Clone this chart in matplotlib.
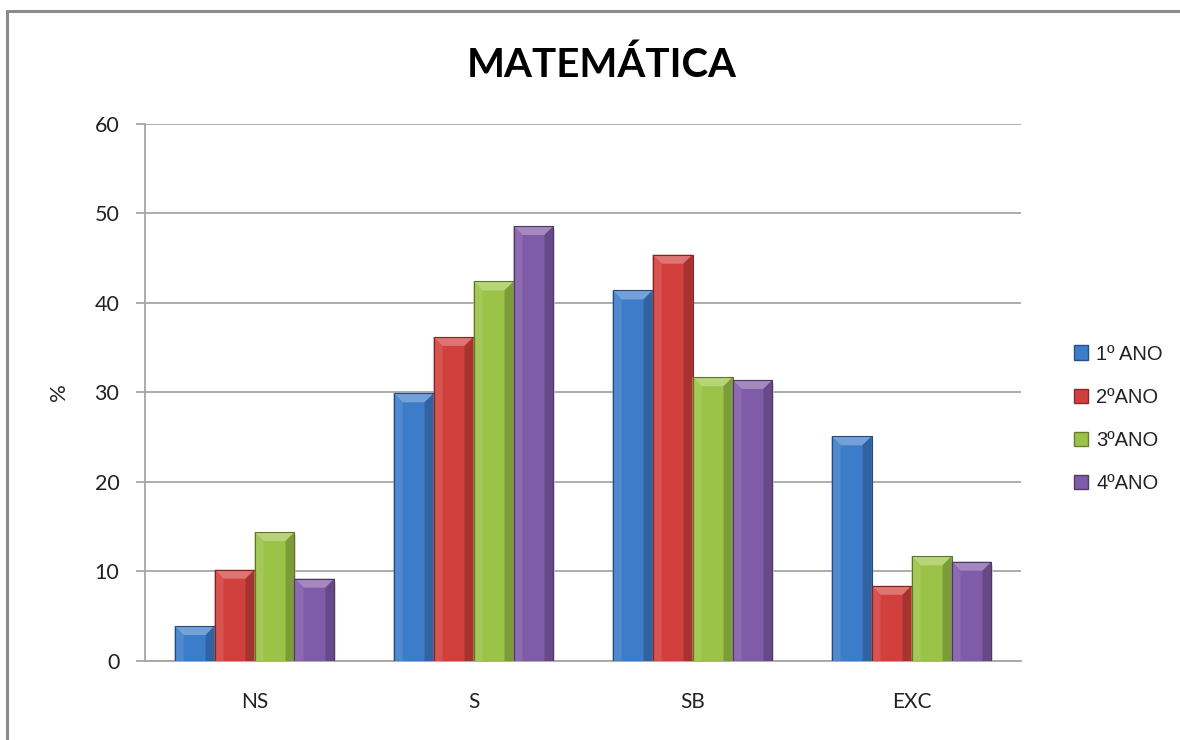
import numpy as np
import matplotlib
matplotlib.use("Agg")
import matplotlib.pyplot as plt
from matplotlib.patches import Polygon, Rectangle, Patch
from matplotlib.colors import to_rgb

plt.rcParams['font.family'] = ['Lato', 'DejaVu Sans']

categories = ["NS", "S", "SB", "EXC"]
series = ["1º ANO", "2ºANO", "3ºANO", "4ºANO"]
ano1 = [3.9, 29.9, 41.4, 25.1]
ano2 = [10.2, 36.2, 45.4, 8.4]
ano3 = [14.4, 42.4, 31.7, 11.7]
ano4 = [9.2, 48.6, 31.4, 11.1]
colors = ["#3d7cc9", "#d1403d", "#9bc347", "#7f5ba8"]

values = [ano1, ano2, ano3, ano4]

fig = plt.figure(figsize=(11.8, 7.4), dpi=100)
ax = fig.add_axes([0.1229, 0.1068, 0.7424, 0.7257])

x = np.arange(len(categories))
bw = 0.1825


def shade(c, f):
    r, g, b = to_rgb(c)
    if f > 0:
        return (r + (1 - r) * f, g + (1 - g) * f, b + (1 - b) * f)
    return (r * (1 + f), g * (1 + f), b * (1 + f))


ax.set_xlim(-0.5, len(categories) - 0.5)
ax.set_ylim(0, 60)

# bevel size in data units (about 9 px)
axw = 0.7424 * 1180
axh = 0.7257 * 740
dx = 9 * len(categories) / axw
dy = 9 * 60 / axh

for i, (vals, col) in enumerate(zip(values, colors)):
    # soft shadow
    ax.bar(x + (i - 1.5) * bw + 0.006, vals, bw, bottom=-0.35, color="#cfcfcf",
           edgecolor='none', zorder=2, alpha=0.7)
    bars = ax.bar(x + (i - 1.5) * bw, vals, bw, color=col,
                  edgecolor='none', linewidth=0, zorder=3)
    for b in bars:
        x0 = b.get_x()
        x1 = x0 + b.get_width()
        h = b.get_height()
        ax.add_patch(Polygon([(x0, h), (x1, h), (x1 - dx, h - dy), (x0 + dx, h - dy)],
                             closed=True, facecolor=shade(col, 0.28), edgecolor='none', zorder=4))
        ax.add_patch(Polygon([(x0, 0), (x0, h), (x0 + dx, h - dy), (x0 + dx, 0)],
                             closed=True, facecolor=shade(col, 0.1), edgecolor='none', zorder=4))
        ax.add_patch(Polygon([(x1, 0), (x1, h), (x1 - dx, h - dy), (x1 - dx, 0)],
                             closed=True, facecolor=shade(col, -0.2), edgecolor='none', zorder=4))
        ax.add_patch(Rectangle((x0, 0), b.get_width(), h, facecolor='none',
                               edgecolor=shade(col, -0.4), linewidth=0.8, zorder=5))

ax.set_yticks(np.arange(0, 61, 10))
ax.set_xticks(x)
ax.set_xticklabels(categories)
ax.yaxis.grid(True, color="#a6a6a6", linewidth=1.3, zorder=0)
ax.set_axisbelow(True)
for s in ["top", "right"]:
    ax.spines[s].set_visible(False)
ax.spines["left"].set_color("#a6a6a6")
ax.spines["bottom"].set_color("#a6a6a6")
ax.spines["left"].set_linewidth(1.3)
ax.spines["bottom"].set_linewidth(1.3)
ax.tick_params(axis='y', direction='out', length=6.5, width=1.3, color="#a6a6a6",
               labelsize=15.5, pad=12, labelcolor="#222222")
ax.tick_params(axis='x', length=0, labelsize=15, pad=22, labelcolor="#222222")
ax.set_ylabel("%", fontsize=16, labelpad=18, color="#222222")

fig.text(0.51, 0.912, "MATEMÁTICA", ha='center', va='center', fontsize=29,
         fontweight='bold', color="black")

handles = [Patch(facecolor=c, edgecolor=shade(c, -0.35)) for c in colors]
fig.legend(handles, series, loc='center left', bbox_to_anchor=(0.895, 0.434),
           frameon=False, handlelength=0.7, handleheight=0.7,
           handletextpad=0.4, labelspacing=1.2, labelcolor="#222222",
           prop={'family': ['Liberation Sans', 'DejaVu Sans'], 'size': 14.5})

fig.patches.append(Rectangle((7 / 1180, -0.1), 1.2, 1.1 - 11 / 740, transform=fig.transFigure,
                             fill=False, edgecolor="#8c8c8c", linewidth=2.2, figure=fig))

fig.savefig("out.png", dpi=100)
